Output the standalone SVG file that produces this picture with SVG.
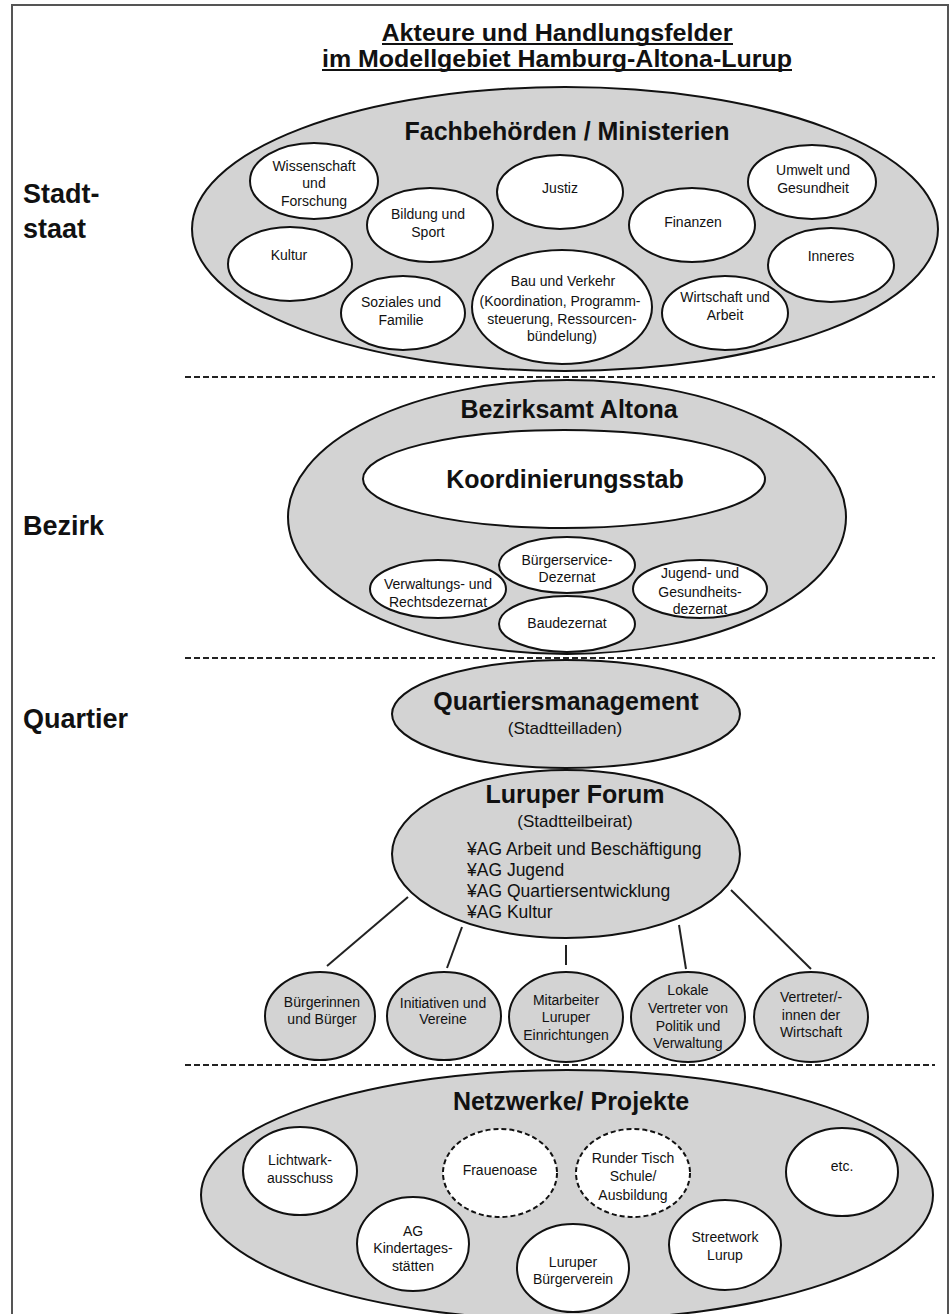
<svg xmlns="http://www.w3.org/2000/svg" width="951" height="1314" viewBox="0 0 951 1314">
<style>
text{font-family:"Liberation Sans",Arial,sans-serif;fill:#111}
.s{font-size:14px;text-anchor:middle}
.m{font-size:17px;text-anchor:middle}
.h{font-size:25px;font-weight:bold;text-anchor:middle}
.t{font-size:23px;font-weight:bold;text-anchor:middle}
.side{font-size:27px;font-weight:bold}
.ag{font-size:17.5px}
.big{fill:#d3d3d3;stroke:#111;stroke-width:2}
.w{fill:#fff;stroke:#111;stroke-width:2}
.g{fill:#d3d3d3;stroke:#111;stroke-width:2}
.d{fill:#fff;stroke:#111;stroke-width:2;stroke-dasharray:5 3}
.sep{stroke:#222;stroke-width:2;stroke-dasharray:6 3}
.con{stroke:#222;stroke-width:2}
.ul{stroke:#111;stroke-width:2}
</style>
<rect width="951" height="1314" fill="#fff"/>
<path d="M12,1314 V5 H948 V1314" fill="none" stroke="#555" stroke-width="2"/>

<g id="title">
<text class="t" x="557" y="41" textLength="351" lengthAdjust="spacingAndGlyphs">Akteure und Handlungsfelder</text>
<line class="ul" x1="382" y1="44" x2="733" y2="44"/>
<text class="t" x="557" y="67" textLength="470" lengthAdjust="spacingAndGlyphs">im Modellgebiet Hamburg-Altona-Lurup</text>
<line class="ul" x1="322" y1="70" x2="792" y2="70"/>
</g>

<g id="side-labels">
<text class="side" x="23" y="203">Stadt-</text>
<text class="side" x="23" y="238">staat</text>
<text class="side" x="23" y="535">Bezirk</text>
<text class="side" x="23" y="728">Quartier</text>
</g>

<g id="separators">
<line class="sep" x1="185" y1="377" x2="935" y2="377"/>
<line class="sep" x1="185" y1="658" x2="935" y2="658"/>
<line class="sep" x1="185" y1="1065" x2="935" y2="1065"/>
</g>

<g id="fachbehoerden">
<ellipse class="big" cx="565" cy="229" rx="373" ry="142"/>
<text class="h" x="567" y="140">Fachbehörden / Ministerien</text>
</g>
<g id="wissenschaft"><ellipse class="w" cx="314" cy="181" rx="64" ry="38"/><text class="s" x="314" y="171">Wissenschaft</text><text class="s" x="314" y="188">und</text><text class="s" x="314" y="206">Forschung</text></g>
<g id="justiz"><ellipse class="w" cx="560" cy="192" rx="63" ry="37"/><text class="s" x="560" y="193">Justiz</text></g>
<g id="umwelt"><ellipse class="w" cx="812" cy="182" rx="64" ry="37"/><text class="s" x="813" y="175">Umwelt und</text><text class="s" x="813" y="193">Gesundheit</text></g>
<g id="bildung"><ellipse class="w" cx="430" cy="225" rx="63" ry="37"/><text class="s" x="428" y="219">Bildung und</text><text class="s" x="428" y="237">Sport</text></g>
<g id="finanzen"><ellipse class="w" cx="692" cy="225" rx="63" ry="37"/><text class="s" x="693" y="227">Finanzen</text></g>
<g id="kultur"><ellipse class="w" cx="290" cy="264" rx="62" ry="37"/><text class="s" x="289" y="260">Kultur</text></g>
<g id="inneres"><ellipse class="w" cx="831" cy="265" rx="63" ry="37"/><text class="s" x="831" y="261">Inneres</text></g>
<g id="soziales"><ellipse class="w" cx="403" cy="313" rx="62" ry="37"/><text class="s" x="401" y="307">Soziales und</text><text class="s" x="401" y="325">Familie</text></g>
<g id="bau"><ellipse class="w" cx="562" cy="307" rx="90" ry="57"/><text class="s" x="563" y="286" font-size="17.5">Bau und Verkehr</text><text class="s" x="560" y="306">(Koordination, Programm-</text><text class="s" x="562" y="324">steuerung, Ressourcen-</text><text class="s" x="562" y="341">bündelung)</text></g>
<g id="wirtschaft"><ellipse class="w" cx="725" cy="313" rx="63" ry="37"/><text class="s" x="725" y="302">Wirtschaft und</text><text class="s" x="725" y="320">Arbeit</text></g>

<g id="bezirksamt">
<ellipse class="big" cx="567" cy="517" rx="279" ry="137"/>
<text class="h" x="569" y="418" font-size="24">Bezirksamt Altona</text>
</g>
<g id="koordinierungsstab"><ellipse class="w" cx="564" cy="479" rx="201" ry="49"/><text class="h" x="565" y="488" font-size="21">Koordinierungsstab</text></g>
<g id="buergerservice"><ellipse class="w" cx="567" cy="565" rx="68" ry="28"/><text class="s" x="567" y="565">Bürgerservice-</text><text class="s" x="567" y="582">Dezernat</text></g>
<g id="verwaltung"><ellipse class="w" cx="438" cy="589" rx="68" ry="29"/><text class="s" x="438" y="589">Verwaltungs- und</text><text class="s" x="438" y="607">Rechtsdezernat</text></g>
<g id="baudezernat"><ellipse class="w" cx="567" cy="624" rx="68" ry="28"/><text class="s" x="567" y="628">Baudezernat</text></g>
<g id="jugend"><ellipse class="w" cx="700" cy="589" rx="67" ry="29"/><text class="s" x="700" y="578">Jugend- und</text><text class="s" x="700" y="597">Gesundheits-</text><text class="s" x="700" y="614">dezernat</text></g>

<g id="quartiersmanagement"><ellipse class="big" cx="566" cy="714" rx="174" ry="54"/><text class="h" x="566" y="710">Quartiersmanagement</text><text class="m" x="565" y="734">(Stadtteilladen)</text></g>

<g id="connectors">
<line class="con" x1="408" y1="897" x2="327" y2="966"/>
<line class="con" x1="462" y1="927" x2="447" y2="968"/>
<line class="con" x1="566" y1="945" x2="566" y2="965"/>
<line class="con" x1="679" y1="925" x2="686" y2="969"/>
<line class="con" x1="731" y1="890" x2="811" y2="969"/>
</g>

<g id="luruper-forum"><ellipse class="big" cx="566" cy="854" rx="174" ry="84"/><text class="h" x="575" y="803">Luruper Forum</text><text class="m" x="575" y="827">(Stadtteilbeirat)</text>
<text class="ag" x="467" y="855">¥AG Arbeit und Beschäftigung</text>
<text class="ag" x="467" y="876">¥AG Jugend</text>
<text class="ag" x="467" y="897">¥AG Quartiersentwicklung</text>
<text class="ag" x="467" y="918">¥AG Kultur</text></g>

<g id="buergerinnen"><ellipse class="g" cx="320" cy="1016" rx="55" ry="44"/><text class="s" x="322" y="1007">Bürgerinnen</text><text class="s" x="322" y="1024">und Bürger</text></g>
<g id="initiativen"><ellipse class="g" cx="444" cy="1016" rx="57" ry="44"/><text class="s" x="443" y="1008">Initiativen und</text><text class="s" x="443" y="1024">Vereine</text></g>
<g id="mitarbeiter"><ellipse class="g" cx="566" cy="1017" rx="57" ry="45"/><text class="s" x="566" y="1005">Mitarbeiter</text><text class="s" x="566" y="1022">Luruper</text><text class="s" x="566" y="1040">Einrichtungen</text></g>
<g id="lokale"><ellipse class="g" cx="688" cy="1017" rx="57" ry="45"/><text class="s" x="688" y="995">Lokale</text><text class="s" x="688" y="1013">Vertreter von</text><text class="s" x="688" y="1031">Politik und</text><text class="s" x="688" y="1048">Verwaltung</text></g>
<g id="vertreter"><ellipse class="g" cx="811" cy="1017" rx="57" ry="45"/><text class="s" x="811" y="1002">Vertreter/-</text><text class="s" x="811" y="1020">innen der</text><text class="s" x="811" y="1037">Wirtschaft</text></g>

<g id="netzwerke"><ellipse class="big" cx="567" cy="1195" rx="366" ry="125"/><text class="h" x="571" y="1110">Netzwerke/ Projekte</text></g>
<g id="lichtwark"><ellipse class="w" cx="300" cy="1171" rx="57" ry="44"/><text class="s" x="300" y="1165">Lichtwark-</text><text class="s" x="300" y="1183">ausschuss</text></g>
<g id="frauenoase"><ellipse class="d" cx="500" cy="1173" rx="57" ry="44"/><text class="s" x="500" y="1175">Frauenoase</text></g>
<g id="runder-tisch"><ellipse class="d" cx="633" cy="1173" rx="57" ry="44"/><text class="s" x="633" y="1163">Runder Tisch</text><text class="s" x="633" y="1181">Schule/</text><text class="s" x="633" y="1200">Ausbildung</text></g>
<g id="etc"><ellipse class="w" cx="842" cy="1172" rx="56" ry="44"/><text class="s" x="842" y="1171">etc.</text></g>
<g id="ag-kita"><ellipse class="w" cx="413" cy="1244" rx="56" ry="47"/><text class="s" x="413" y="1236">AG</text><text class="s" x="413" y="1253">Kindertages-</text><text class="s" x="413" y="1271">stätten</text></g>
<g id="buergerverein"><ellipse class="w" cx="573" cy="1268" rx="56" ry="44"/><text class="s" x="573" y="1267">Luruper</text><text class="s" x="573" y="1284">Bürgerverein</text></g>
<g id="streetwork"><ellipse class="w" cx="725" cy="1245" rx="56" ry="45"/><text class="s" x="725" y="1242">Streetwork</text><text class="s" x="725" y="1260">Lurup</text></g>
</svg>
